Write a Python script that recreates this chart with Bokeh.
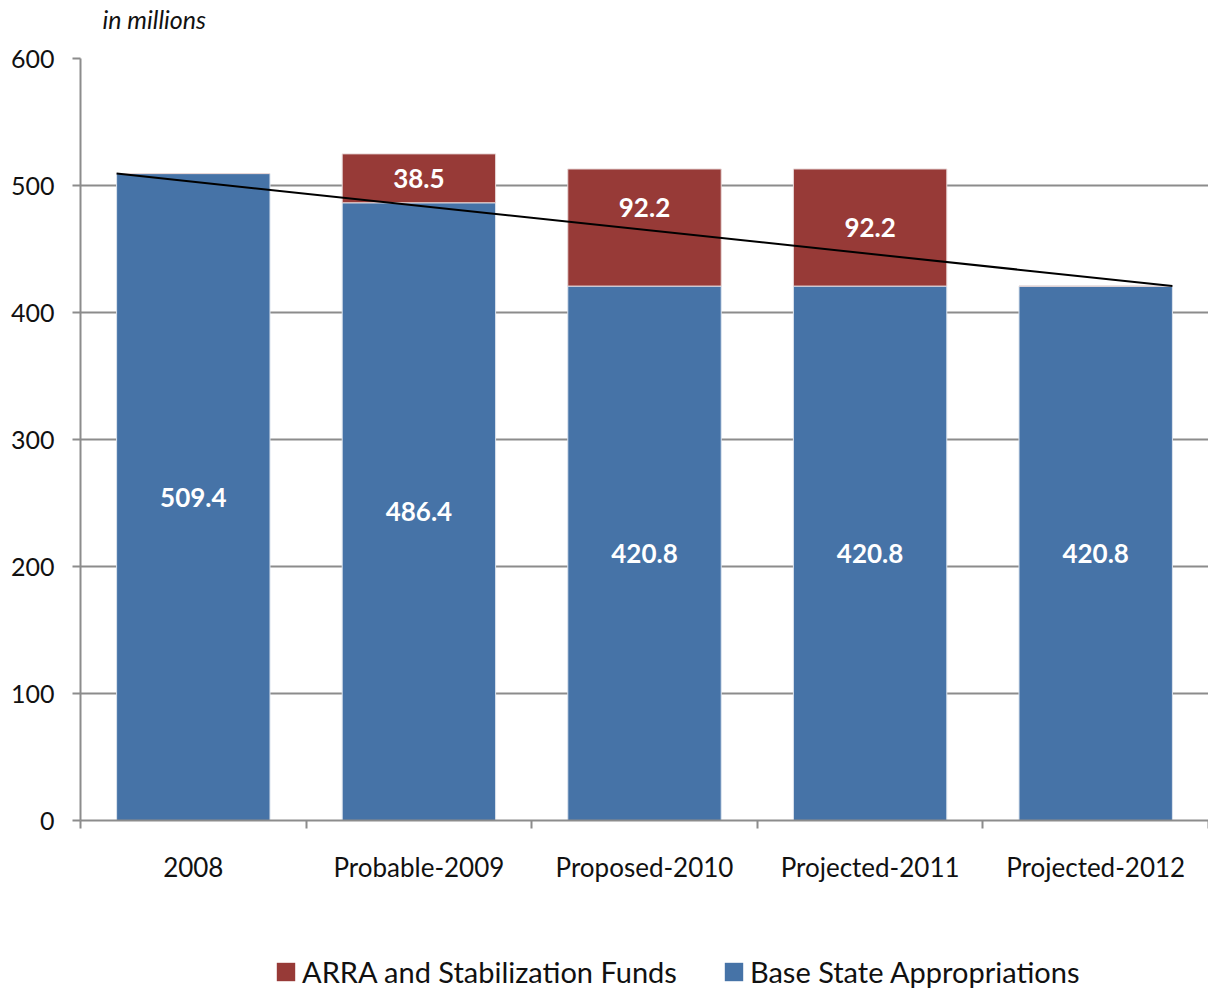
from bokeh.plotting import figure
from bokeh.models import (ColumnDataSource, FixedTicker, Legend, LegendItem,
                          LinearAxis, Range1d, Label)
from bokeh.layouts import column
from bokeh.core.properties import value
from bokeh.embed import file_html
from bokeh.resources import INLINE

categories = ["2008", "Probable-2009", "Proposed-2010", "Projected-2011", "Projected-2012"]
base_values = [509.4, 486.4, 420.8, 420.8, 420.8]
arra_values = [0.0, 38.5, 92.2, 92.2, 0.0]
series_names = ["ARRA and Stabilization Funds", "Base State Appropriations"]
unit_note = "in millions"
y_ticks = [0, 100, 200, 300, 400, 500, 600]

FONT = "Lato"
BLUE = "#4673A7"
RED = "#973A37"
GRID = "#8C8C8C"
BAR_W = 0.68

n = len(categories)
xc = [i + 0.5 for i in range(n)]
tops = [b + a for b, a in zip(base_values, arra_values)]


def strip(height, x_end, y_end):
    f = figure(width=1208, height=height, output_backend="svg", toolbar_location=None,
               x_range=Range1d(0, x_end), y_range=Range1d(0, y_end),
               min_border_left=0, min_border_right=0, min_border_top=0,
               min_border_bottom=0, x_axis_location=None, y_axis_location=None)
    f.outline_line_color = None
    f.xgrid.grid_line_color = None
    f.ygrid.grid_line_color = None
    f.background_fill_color = "white"
    f.border_fill_color = "white"
    return f


# top strip with unit note
t = strip(40, 1128, 40)
t.add_layout(Label(x=22, y=22, text=unit_note, text_font=FONT, text_font_style="italic",
                   text_font_size="25px", text_color="#111111", text_baseline="middle"))

p = figure(width=1208, height=890, output_backend="svg", toolbar_location=None,
           x_range=Range1d(0, n), y_range=Range1d(0, 600),
           min_border_left=80, min_border_right=0, min_border_top=18,
           min_border_bottom=110, x_axis_location=None, y_axis_location=None)
p.outline_line_color = None
p.background_fill_color = "white"
p.border_fill_color = "white"

# axes
yax = LinearAxis(ticker=FixedTicker(ticks=y_ticks))
yax.axis_line_color = GRID
yax.axis_line_width = 2
yax.major_tick_line_color = GRID
yax.major_tick_line_width = 2
yax.major_tick_in = 0
yax.major_tick_out = 8
yax.minor_tick_line_color = None
yax.major_label_text_font = FONT
yax.major_label_text_font_size = "25px"
yax.major_label_text_color = "#111111"
yax.major_label_standoff = 18
p.add_layout(yax, "left")

xax = LinearAxis(ticker=FixedTicker(ticks=xc, minor_ticks=list(range(n + 1))))
xax.major_label_overrides = {x: c for x, c in zip(xc, categories)}
xax.axis_line_color = GRID
xax.axis_line_width = 2
xax.major_tick_line_color = None
xax.minor_tick_line_color = GRID
xax.minor_tick_line_width = 2
xax.minor_tick_in = 0
xax.minor_tick_out = 8
xax.major_label_text_font = FONT
xax.major_label_text_font_size = "26px"
xax.major_label_text_color = "#111111"
xax.major_label_standoff = 22
p.add_layout(xax, "below")

p.xgrid.grid_line_color = None
p.ygrid.ticker = FixedTicker(ticks=y_ticks)
p.ygrid.grid_line_color = GRID
p.ygrid.grid_line_width = 2

src = ColumnDataSource(dict(x=xc, base=base_values, arra=arra_values, top=tops))
rb = p.vbar(x="x", width=BAR_W, bottom=0, top="base", source=src,
            fill_color=BLUE, line_color="#DCE4EE", line_width=1)
rr = p.vbar(x="x", width=BAR_W, bottom="base", top="top", source=src,
            fill_color=RED, line_color="#E8D8D8", line_width=1)

# trend line from left edge of first bar to right edge of last bar
p.line(x=[xc[0] - BAR_W / 2, xc[-1] + BAR_W / 2], y=[base_values[0], base_values[-1]],
       line_color="black", line_width=2)

# labels
lab_base = ColumnDataSource(dict(x=xc, y=[b / 2 for b in base_values],
                                 t=[f"{b:.1f}" for b in base_values]))
p.text(x="x", y="y", text="t", source=lab_base, text_font=value(FONT),
       text_color="white", text_font_style="bold", text_font_size="26px",
       text_align="center", text_baseline="middle")
arra_idx = [i for i, a in enumerate(arra_values) if a > 0]
label_shift = {2: -20}
lab_arra = ColumnDataSource(dict(
    x=[xc[i] for i in arra_idx],
    y=[base_values[i] + arra_values[i] / 2 for i in arra_idx],
    t=[f"{arra_values[i]:.1f}" for i in arra_idx],
    dy=[label_shift.get(i, 0) for i in arra_idx]))
p.text(x="x", y="y", text="t", source=lab_arra, y_offset="dy", text_font=value(FONT),
       text_color="white", text_font_style="bold", text_font_size="26px",
       text_align="center", text_baseline="middle")

# legend strip
q = strip(61, 1, 1)
proxy = ColumnDataSource(dict(x=[5.0], top=[1.0]))
lr = q.vbar(x="x", top="top", width=0.1, source=proxy, fill_color=RED, line_color=None)
lb = q.vbar(x="x", top="top", width=0.1, source=proxy, fill_color=BLUE, line_color=None)

legend = Legend(items=[LegendItem(label=series_names[0], renderers=[lr]),
                       LegendItem(label=series_names[1], renderers=[lb])],
                orientation="horizontal", location=(194, 2))
legend.label_text_font = FONT
legend.label_text_font_size = "29px"
legend.label_text_color = "#111111"
legend.glyph_width = 23
legend.glyph_height = 23
legend.label_standoff = 5
legend.spacing = 45
legend.border_line_color = None
legend.background_fill_alpha = 0
legend.margin = 0
legend.padding = 0
q.add_layout(legend, "center")

layout = column(t, p, q, spacing=0)
open("out.html", "w").write(file_html(layout, INLINE))
